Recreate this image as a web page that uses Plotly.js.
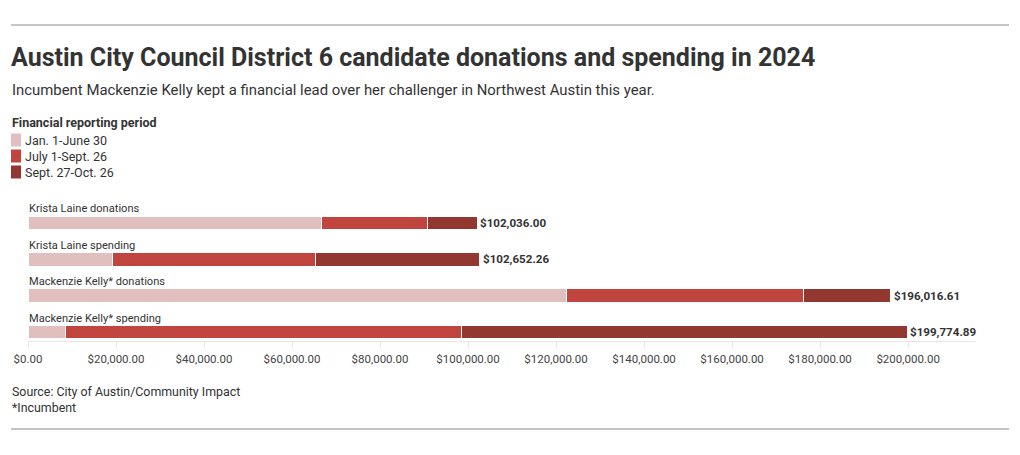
<!DOCTYPE html>
<html>
<head>
<meta charset="utf-8">
<script src="https://cdn.plot.ly/plotly-3.0.1.min.js"></script>
<style>
  body { margin: 0; background: #fff; }
  #chart { width: 1020px; height: 455px; }
</style>
</head>
<body>
<div id="chart"></div>
<script>
// rows, top to bottom
var categories = ['Krista Laine donations', 'Krista Laine spending', 'Mackenzie Kelly* donations', 'Mackenzie Kelly* spending'];

// reporting periods
var periods = ['Jan. 1-June 30', 'July 1-Sept. 26', 'Sept. 27-Oct. 26'];
var jan_june = [66700, 19300, 122400, 8500];
var july_sept = [24000, 46100, 53800, 90000];
var sept_oct = [11336, 37252, 19817, 101275];

// totals printed at the end of each bar
var totals = [102036.00, 102652.26, 196016.61, 199774.89];

var x_ticks = [0, 20000, 40000, 60000, 80000, 100000, 120000, 140000, 160000, 180000, 200000];

var colors = ['#e2bfbf', '#c1453f', '#933830'];
var FONT = 'Roboto, "Open Sans", sans-serif';

// plot area in pixels: left 28, width 947, bottom 341, height 141
var M = { l: 28, r: 45, t: 200, b: 114 };
var plotW = 1020 - M.l - M.r;
var plotH = 455 - M.t - M.b;
function px2x(px) { return (px - M.l) / plotW; }
function px2y(py) { return (455 - M.b - py) / plotH; }

var seriesValues = [jan_june, july_sept, sept_oct];
var data = seriesValues.map(function (vals, i) {
  return {
    type: 'bar',
    orientation: 'h',
    y: categories,
    x: vals,
    name: periods[i],
    showlegend: false,
    marker: { color: colors[i], line: { color: '#ffffff', width: 1 } },
    hoverinfo: 'x+name'
  };
});

var annotations = [];
var shapes = [];

// row labels above each bar
categories.forEach(function (c) {
  annotations.push({
    xref: 'x', yref: 'y', x: 0, y: c,
    text: c, showarrow: false,
    xanchor: 'left', yanchor: 'middle', yshift: 14, xshift: -1,
    font: { family: FONT, size: 11.1, color: '#333333' }
  });
});

// totals at the bar ends
categories.forEach(function (c, i) {
  var t = '$' + totals[i].toLocaleString('en-US', { minimumFractionDigits: 2, maximumFractionDigits: 2 });
  annotations.push({
    xref: 'x', yref: 'y', x: totals[i], y: c,
    text: '<b>' + t + '</b>', showarrow: false,
    xanchor: 'left', yanchor: 'middle', xshift: 1,
    font: { family: FONT, size: 11.6, color: '#333333' }
  });
});

// subtitle
annotations.push({
  xref: 'paper', yref: 'paper', x: px2x(10), y: px2y(90), xanchor: 'left', yanchor: 'middle',
  text: 'Incumbent Mackenzie Kelly kept a financial lead over her challenger in Northwest Austin this year.',
  showarrow: false, font: { family: FONT, size: 14.9, color: '#333333' }
});

// legend (title, swatches, labels)
annotations.push({
  xref: 'paper', yref: 'paper', x: px2x(10), y: px2y(122), xanchor: 'left', yanchor: 'middle',
  text: '<b>Financial reporting period</b>',
  showarrow: false, font: { family: FONT, size: 12.5, color: '#333333' }
});
periods.forEach(function (p, i) {
  var cy = 140 + i * 16;
  shapes.push({
    type: 'rect', xref: 'paper', yref: 'paper',
    x0: px2x(11), x1: px2x(21), y0: px2y(cy + 6.5), y1: px2y(cy - 6.5),
    fillcolor: colors[i], line: { width: 0 }
  });
  annotations.push({
    xref: 'paper', yref: 'paper', x: px2x(22.5), y: px2y(cy), xanchor: 'left', yanchor: 'middle',
    text: p, showarrow: false, font: { family: FONT, size: 12.5, color: '#333333' }
  });
});

// source notes
annotations.push({
  xref: 'paper', yref: 'paper', x: px2x(10), y: px2y(391), xanchor: 'left', yanchor: 'middle',
  text: 'Source: City of Austin/Community Impact',
  showarrow: false, font: { family: FONT, size: 12.4, color: '#333333' }
});
annotations.push({
  xref: 'paper', yref: 'paper', x: px2x(10), y: px2y(407), xanchor: 'left', yanchor: 'middle',
  text: '*Incumbent',
  showarrow: false, font: { family: FONT, size: 12.4, color: '#333333' }
});

// top and bottom rules
shapes.push({ type: 'line', xref: 'paper', yref: 'paper', x0: px2x(11), x1: px2x(1009), y0: px2y(25), y1: px2y(25),
  line: { color: '#8a8a8a', width: 1 } });
shapes.push({ type: 'line', xref: 'paper', yref: 'paper', x0: px2x(11), x1: px2x(1009), y0: px2y(429), y1: px2y(429),
  line: { color: '#8a8a8a', width: 1 } });

var layout = {
  width: 1020,
  height: 455,
  paper_bgcolor: '#ffffff',
  plot_bgcolor: '#ffffff',
  font: { family: FONT, size: 12, color: '#333333' },
  margin: M,
  barmode: 'stack',
  bargap: 0.62,
  showlegend: false,
  title: {
    text: '<b>Austin City Council District 6 candidate donations and spending in 2024</b>',
    x: 11 / 1020, xanchor: 'left', xref: 'container',
    y: 1 - 57 / 455, yanchor: 'middle', yref: 'container',
    font: { family: FONT, size: 25, color: '#333333' }
  },
  xaxis: {
    range: [0, 215200],
    tickvals: x_ticks,
    tickformat: '$,.2f',
    showgrid: false,
    zeroline: false,
    showline: true,
    linecolor: '#e6e6e6',
    ticks: 'outside',
    ticklen: 5,
    tickcolor: '#e6e6e6',
    ticklabelstandoff: 2,
    tickfont: { family: FONT, size: 11.5, color: '#444444' },
    fixedrange: true
  },
  yaxis: {
    range: [3.247, -0.63],
    showticklabels: false,
    showgrid: false,
    zeroline: false,
    ticks: '',
    fixedrange: true
  },
  shapes: shapes,
  annotations: annotations
};

Plotly.newPlot('chart', data, layout, { displayModeBar: false });
</script>
</body>
</html>
